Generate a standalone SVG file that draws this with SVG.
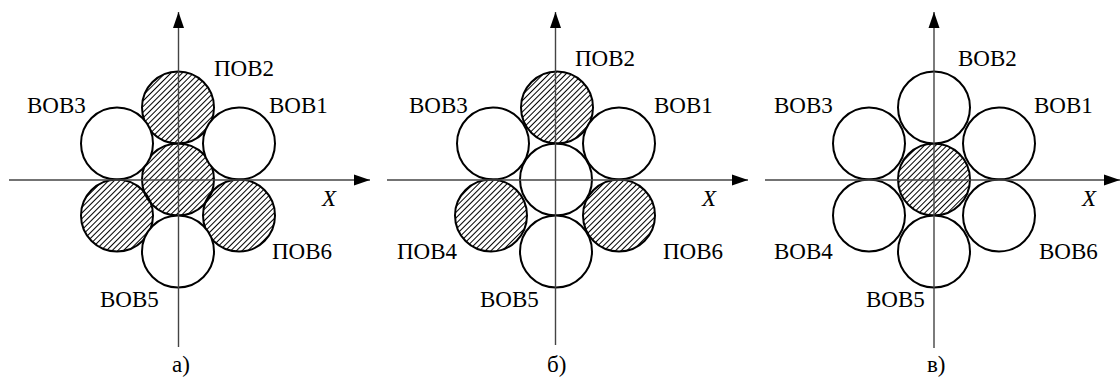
<svg xmlns="http://www.w3.org/2000/svg" width="1120" height="386" viewBox="0 0 1120 386">
<defs>
<pattern id="hatch" patternUnits="userSpaceOnUse" width="4" height="10" patternTransform="rotate(45)">
<rect x="0" y="0" width="1" height="10" fill="#000"/>
</pattern>
<marker id="arr" markerUnits="userSpaceOnUse" markerWidth="17" markerHeight="12" refX="16" refY="6" orient="auto">
<path d="M0,0.5 L16,6 L0,11.5 Z" fill="#000"/>
</marker>
</defs>
<style>
.c{stroke:#000;stroke-width:2;fill:#fff}
.h{stroke:#000;stroke-width:2;fill:url(#hatch)}
.ax{stroke:#444;stroke-width:1.4;fill:none;marker-end:url(#arr)}
.x{font-style:italic}
</style>
<rect width="1120" height="386" fill="#fff"/>
<g font-family="Liberation Serif, Times New Roman, DejaVu Serif, serif" font-size="23" fill="#000">

<!-- Panel a -->
<g id="panel-a">
<g id="a-center"><circle class="h" cx="178" cy="179.5" r="36"/></g>
<g id="a-pov2"><circle class="h" cx="178" cy="107.5" r="36"/><text x="214" y="76">ПОВ2</text></g>
<g id="a-vov1"><circle class="c" cx="239" cy="143.5" r="36"/><text x="269" y="113">ВОВ1</text></g>
<g id="a-vov3"><circle class="c" cx="117" cy="143.5" r="36"/><text x="27" y="113">ВОВ3</text></g>
<g id="a-pov4"><circle class="h" cx="117" cy="215.5" r="36"/></g>
<g id="a-pov6"><circle class="h" cx="239" cy="215.5" r="36"/><text x="272" y="259">ПОВ6</text></g>
<g id="a-vov5"><circle class="c" cx="178" cy="251.5" r="36"/><text x="100" y="307">ВОВ5</text></g>
<g id="a-axes">
<line class="ax" x1="9" y1="180" x2="370" y2="180"/>
<line class="ax" x1="178.5" y1="347" x2="178.5" y2="12"/>
</g>
<text class="x" x="322" y="206">X</text>
<text x="172" y="372">а)</text>
</g>

<!-- Panel b -->
<g id="panel-b">
<g id="b-center"><circle class="c" cx="556" cy="179.5" r="36"/></g>
<g id="b-pov2"><circle class="h" cx="557" cy="107.5" r="36"/><text x="575" y="66">ПОВ2</text></g>
<g id="b-vov1"><circle class="c" cx="619" cy="143.5" r="36"/><text x="654" y="113">ВОВ1</text></g>
<g id="b-vov3"><circle class="c" cx="493" cy="143.5" r="36"/><text x="409" y="113">ВОВ3</text></g>
<g id="b-pov4"><circle class="h" cx="491" cy="215.5" r="36"/><text x="397" y="259">ПОВ4</text></g>
<g id="b-pov6"><circle class="h" cx="619" cy="215.5" r="36"/><text x="663" y="259">ПОВ6</text></g>
<g id="b-vov5"><circle class="c" cx="556" cy="251.5" r="36"/><text x="480" y="307">ВОВ5</text></g>
<g id="b-axes">
<line class="ax" x1="387" y1="180" x2="748" y2="180"/>
<line class="ax" x1="555.5" y1="345" x2="555.5" y2="12"/>
</g>
<text class="x" x="702" y="206">X</text>
<text x="547" y="372">б)</text>
</g>

<!-- Panel c -->
<g id="panel-c">
<g id="c-center"><circle class="h" cx="934" cy="179.5" r="36"/></g>
<g id="c-vov2"><circle class="c" cx="934" cy="107.5" r="36"/><text x="958" y="66">ВОВ2</text></g>
<g id="c-vov1"><circle class="c" cx="999" cy="143.5" r="36"/><text x="1034" y="113">ВОВ1</text></g>
<g id="c-vov3"><circle class="c" cx="869" cy="143.5" r="36"/><text x="774" y="113">ВОВ3</text></g>
<g id="c-vov4"><circle class="c" cx="869" cy="215.5" r="36"/><text x="774" y="259">ВОВ4</text></g>
<g id="c-vov6"><circle class="c" cx="999" cy="215.5" r="36"/><text x="1039" y="259">ВОВ6</text></g>
<g id="c-vov5"><circle class="c" cx="934" cy="251.5" r="36"/><text x="866" y="307">ВОВ5</text></g>
<g id="c-axes">
<line class="ax" x1="765" y1="180" x2="1120" y2="180"/>
<line class="ax" x1="934" y1="348" x2="934" y2="12"/>
</g>
<text class="x" x="1082" y="206">X</text>
<text x="927" y="372">в)</text>
</g>
</g>
</svg>
